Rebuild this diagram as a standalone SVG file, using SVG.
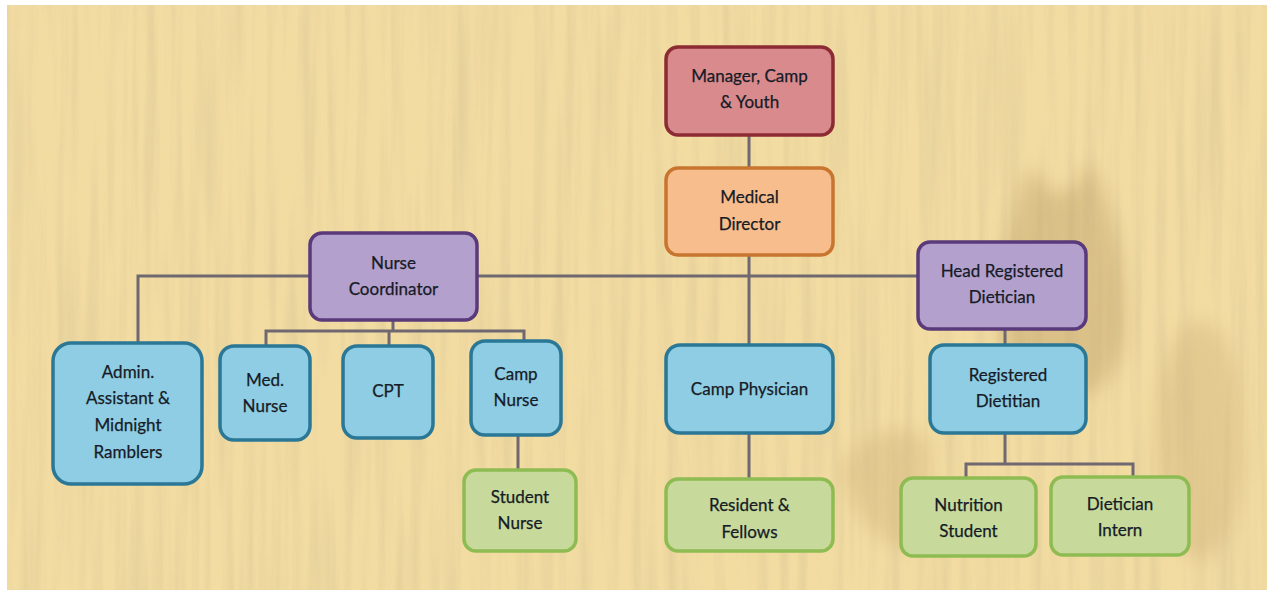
<svg xmlns="http://www.w3.org/2000/svg" width="1274" height="596" viewBox="0 0 1274 596">
<defs>
<style>
.n rect{stroke-width:3.5}
.n text{font-family:Lato,"Open Sans","Liberation Sans",sans-serif;font-size:17px;fill:#161b26;text-anchor:middle;stroke:#161b26;stroke-width:0.25}
.red rect{fill:#d98a8d;stroke:#8c2b33}
.org rect{fill:#f8bd8d;stroke:#c7752f}
.pur rect{fill:#b3a0cd;stroke:#5a3a7b}
.blu rect{fill:#8ecde3;stroke:#2a7796}
.grn rect{fill:#c7d99b;stroke:#8fbc52}
#connectors path{fill:none;stroke:#6f6870;stroke-width:3}
</style>
<filter id="wood" x="0" y="0" width="100%" height="100%">
<feTurbulence type="fractalNoise" baseFrequency="0.09 0.004" numOctaves="3" seed="7"/>
<feColorMatrix type="matrix" values="0 0 0 0 0.70  0 0 0 0 0.56  0 0 0 0 0.30  0 0 0 1.6 -0.62"/>
</filter>
<filter id="blur"><feGaussianBlur stdDeviation="9"/></filter>
</defs>
<rect width="1274" height="596" fill="#ffffff"/>
<rect x="7" y="5" width="1260" height="585" fill="#f2dca2"/>
<rect x="7" y="5" width="1260" height="585" filter="url(#wood)" opacity="0.6"/>
<g opacity="0.3" filter="url(#blur)">
<path d="M1000 340 C995 270 1010 210 1030 165 C1050 200 1070 205 1090 160 C1115 210 1130 270 1125 340 C1110 420 1020 420 1000 340 Z" fill="#a88650"/>
<path d="M840 470 C860 430 900 420 930 440 L930 540 C900 560 860 540 840 470 Z" fill="#c4a36a"/>
<ellipse cx="1200" cy="440" rx="45" ry="120" fill="#c4a36a"/>
</g>
<g id="connectors">
<path d="M749 135V168"/>
<path d="M749 255V345"/>
<path d="M138 343V276H918"/>
<path d="M393 320V331M266 346V331H524V341M389 331V346"/>
<path d="M518 435V470"/>
<path d="M749 433V479"/>
<path d="M1005 329V345"/>
<path d="M1005 433V464M966 478V464H1133V477"/>
</g>
<g id="manager" class="n red"><rect x="666" y="47" width="167" height="88" rx="12"/><text x="749.5" y="82">Manager, Camp</text><text x="749.5" y="108">&amp; Youth</text></g>
<g id="medical-director" class="n org"><rect x="666" y="168" width="167" height="87" rx="12"/><text x="749.5" y="203">Medical</text><text x="749.5" y="230">Director</text></g>
<g id="nurse-coordinator" class="n pur"><rect x="310" y="233" width="167" height="87" rx="12"/><text x="393.5" y="269">Nurse</text><text x="393.5" y="295">Coordinator</text></g>
<g id="head-dietician" class="n pur"><rect x="918" y="242" width="168" height="87" rx="12"/><text x="1002" y="277">Head Registered</text><text x="1002" y="303">Dietician</text></g>
<g id="admin" class="n blu"><rect x="53" y="343" width="149" height="141" rx="18"/><text x="128" y="378">Admin.</text><text x="128" y="404">Assistant &amp;</text><text x="128" y="431">Midnight</text><text x="128" y="458">Ramblers</text></g>
<g id="med-nurse" class="n blu"><rect x="220" y="346" width="90" height="94" rx="14"/><text x="265" y="386">Med.</text><text x="265" y="412">Nurse</text></g>
<g id="cpt" class="n blu"><rect x="343" y="346" width="90" height="92" rx="14"/><text x="388" y="397">CPT</text></g>
<g id="camp-nurse" class="n blu"><rect x="471" y="341" width="90" height="94" rx="14"/><text x="516" y="380">Camp</text><text x="516" y="406">Nurse</text></g>
<g id="student-nurse" class="n grn"><rect x="464" y="470" width="112" height="81" rx="12"/><text x="520" y="503">Student</text><text x="520" y="529">Nurse</text></g>
<g id="camp-physician" class="n blu"><rect x="666" y="345" width="167" height="88" rx="14"/><text x="749.5" y="395">Camp Physician</text></g>
<g id="resident-fellows" class="n grn"><rect x="666" y="479" width="167" height="72" rx="12"/><text x="749.5" y="511">Resident &amp;</text><text x="749.5" y="538">Fellows</text></g>
<g id="registered-dietitian" class="n blu"><rect x="930" y="345" width="156" height="88" rx="14"/><text x="1008" y="381">Registered</text><text x="1008" y="407">Dietitian</text></g>
<g id="nutrition-student" class="n grn"><rect x="901" y="478" width="135" height="78" rx="12"/><text x="968.5" y="511">Nutrition</text><text x="968.5" y="537">Student</text></g>
<g id="dietician-intern" class="n grn"><rect x="1051" y="477" width="138" height="78" rx="12"/><text x="1120" y="510">Dietician</text><text x="1120" y="536">Intern</text></g>
</svg>
